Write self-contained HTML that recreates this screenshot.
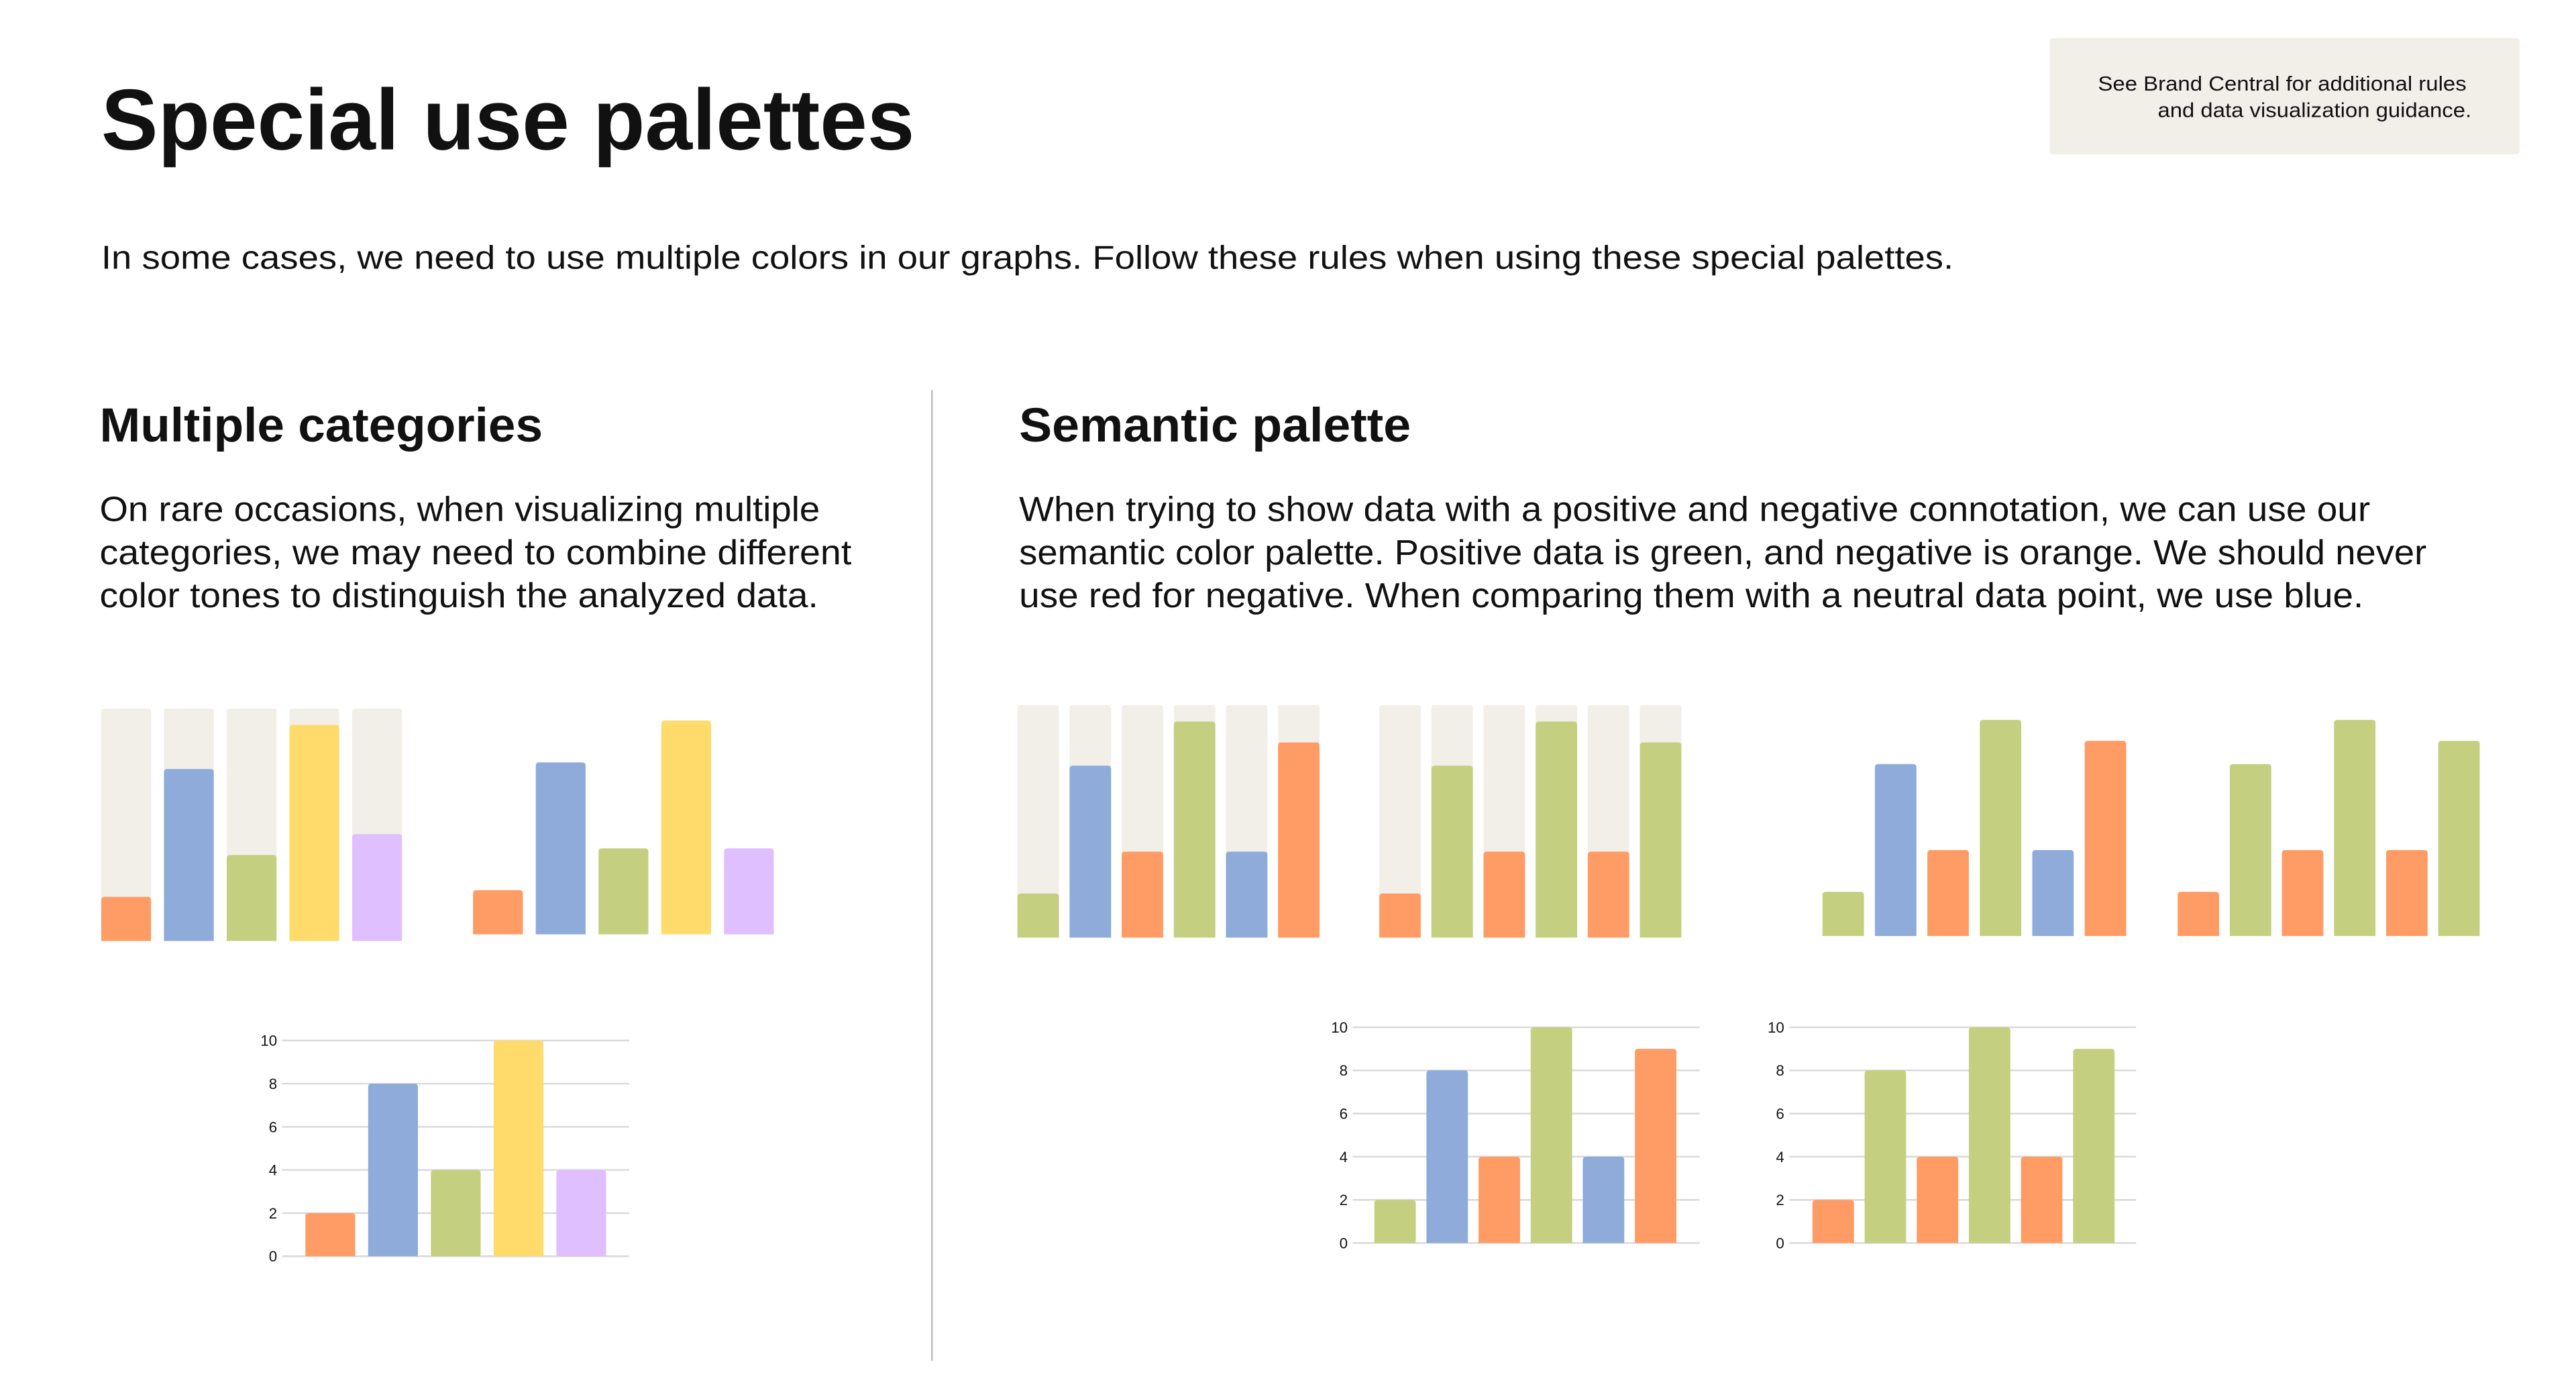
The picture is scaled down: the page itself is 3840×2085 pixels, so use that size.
<!DOCTYPE html>
<html><head><meta charset="utf-8"><style>
html,body{margin:0;padding:0;background:#fff;}
svg{display:block;}
text{font-family:"Liberation Sans",sans-serif;fill:#111;}
</style></head><body>
<svg id="page" width="3840" height="2085" viewBox="0 0 1552 843" preserveAspectRatio="none" xmlns="http://www.w3.org/2000/svg">
<text x="61" y="90" font-size="52" font-weight="bold" textLength="490" lengthAdjust="spacingAndGlyphs">Special use palettes</text>
<rect x="1235" y="23" width="283" height="70" rx="2" fill="#f2eee8"/>
<text x="1486" y="54.5" font-size="12.5" text-anchor="end" textLength="222" lengthAdjust="spacingAndGlyphs">See Brand Central for additional rules</text>
<text x="1489" y="70.5" font-size="12.5" text-anchor="end" textLength="189" lengthAdjust="spacingAndGlyphs">and data visualization guidance.</text>
<text x="61" y="162" font-size="20" textLength="1116" lengthAdjust="spacingAndGlyphs">In some cases, we need to use multiple colors in our graphs. Follow these rules when using these special palettes.</text>
<line x1="561.5" y1="235" x2="561.5" y2="820" stroke="#bdbdbd" stroke-width="1"/>
<text x="60" y="266" font-size="29" font-weight="bold" textLength="267" lengthAdjust="spacingAndGlyphs">Multiple categories</text>
<text x="614" y="266" font-size="29" font-weight="bold" textLength="236" lengthAdjust="spacingAndGlyphs">Semantic palette</text>
<g font-size="21">
<text x="60" y="314" textLength="434" lengthAdjust="spacingAndGlyphs">On rare occasions, when visualizing multiple</text>
<text x="60" y="340" textLength="453" lengthAdjust="spacingAndGlyphs">categories, we may need to combine different</text>
<text x="60" y="366" textLength="433" lengthAdjust="spacingAndGlyphs">color tones to distinguish the analyzed data.</text>
</g>
<g font-size="21">
<text x="614" y="314" textLength="814" lengthAdjust="spacingAndGlyphs">When trying to show data with a positive and negative connotation, we can use our</text>
<text x="614" y="340" textLength="848" lengthAdjust="spacingAndGlyphs">semantic color palette. Positive data is green, and negative is orange. We should never</text>
<text x="614" y="366" textLength="810" lengthAdjust="spacingAndGlyphs">use red for negative. When comparing them with a neutral data point, we use blue.</text>
</g>
<g id="charts"></g>
</svg>
<script>
// Data
const catValues = [1.9, 7.4, 3.7, 9.3, 4.6];
const catPlainValues = [1.9, 7.4, 3.7, 9.2, 3.7];
const catAxisValues = [2, 8, 4, 10, 4];
const catColors = ["orange", "blue", "green", "yellow", "purple"];
const semValues = [1.9, 7.4, 3.7, 9.3, 3.7, 8.4];
const semAxisValues = [2, 8, 4, 10, 4, 9];
const semColorsA = ["green", "blue", "orange", "green", "blue", "orange"];
const semColorsB = ["orange", "green", "orange", "green", "orange", "green"];
const tickLabels = [0, 2, 4, 6, 8, 10];

const PAL = {orange:"#ff9c66", blue:"#8eabd9", green:"#c4d080", yellow:"#ffdb6b", purple:"#dfbfff", track:"#f2eee8"};
const NS = "http://www.w3.org/2000/svg";
const root = document.getElementById("charts");

function mk(tag, attrs, parent){
  const e = document.createElementNS(NS, tag);
  for (const k in attrs) e.setAttribute(k, attrs[k]);
  parent.appendChild(e);
  return e;
}
function roundTopPath(x, y, w, h, r){
  r = Math.min(r, h/2, w/2);
  return `M${x},${y+h} L${x},${y+r} Q${x},${y} ${x+r},${y} L${x+w-r},${y} Q${x+w},${y} ${x+w},${y+r} L${x+w},${y+h} Z`;
}
function drawChart(cfg){
  const g = mk("g", {}, root);
  
  
  const yScale = v => cfg.bottom - v / cfg.max * (cfg.bottom - cfg.top);
  const xPos = i => cfg.x0 + i * cfg.step;
  if (cfg.axis){
    tickLabels.forEach(t => {
      const y = yScale(t);
      const ln = mk("line", {x1:cfg.gx0, x2:cfg.gx1, y1:y, y2:y, stroke:"#d9d9d9", "stroke-width":1}, g);
      
      
      const tx = mk("text", {x:cfg.gx0-3, y:y+3.2, "font-size":9, "text-anchor":"end"}, g);
      tx.textContent = t;
      
      
    });
  }
  cfg.values.forEach((v, i) => {
    const x = xPos(i);
    if (cfg.track){
      const tr = mk("path", {d: roundTopPath(x, cfg.top, cfg.w, cfg.bottom - cfg.top, 1.5), fill: PAL.track}, g);
      
      
    }
    const y = yScale(v);
    const b = mk("path", {d: roundTopPath(x, y, cfg.w, cfg.bottom - y, 2), fill: PAL[cfg.colors[i]]}, g);
    
    
  });
}
drawChart({name:"categories-stacked-chart", values:catValues, colors:catColors, x0:61, step:37.8, w:30, top:427, bottom:567, max:10, track:true});
drawChart({name:"categories-plain-chart", values:catPlainValues, colors:catColors, x0:285, step:37.8, w:30, top:423, bottom:563, max:10});
drawChart({name:"categories-axis-chart", values:catAxisValues, colors:catColors, x0:184, step:37.8, w:30, top:627, bottom:757, max:10, axis:true, gx0:170, gx1:379});
drawChart({name:"semantic-stacked-chart-neutral", values:semValues, colors:semColorsA, x0:613, step:31.4, w:25, top:425, bottom:565, max:10, track:true});
drawChart({name:"semantic-stacked-chart", values:semValues, colors:semColorsB, x0:831, step:31.4, w:25, top:425, bottom:565, max:10, track:true});
drawChart({name:"semantic-plain-chart-neutral", values:semValues, colors:semColorsA, x0:1098, step:31.6, w:25, top:424, bottom:564, max:10});
drawChart({name:"semantic-plain-chart", values:semValues, colors:semColorsB, x0:1312, step:31.4, w:25, top:424, bottom:564, max:10});
drawChart({name:"semantic-axis-chart-neutral", values:semAxisValues, colors:semColorsA, x0:828, step:31.4, w:25, top:619, bottom:749, max:10, axis:true, gx0:815, gx1:1024});
drawChart({name:"semantic-axis-chart", values:semAxisValues, colors:semColorsB, x0:1092, step:31.4, w:25, top:619, bottom:749, max:10, axis:true, gx0:1078, gx1:1287});
</script>
</body></html>
